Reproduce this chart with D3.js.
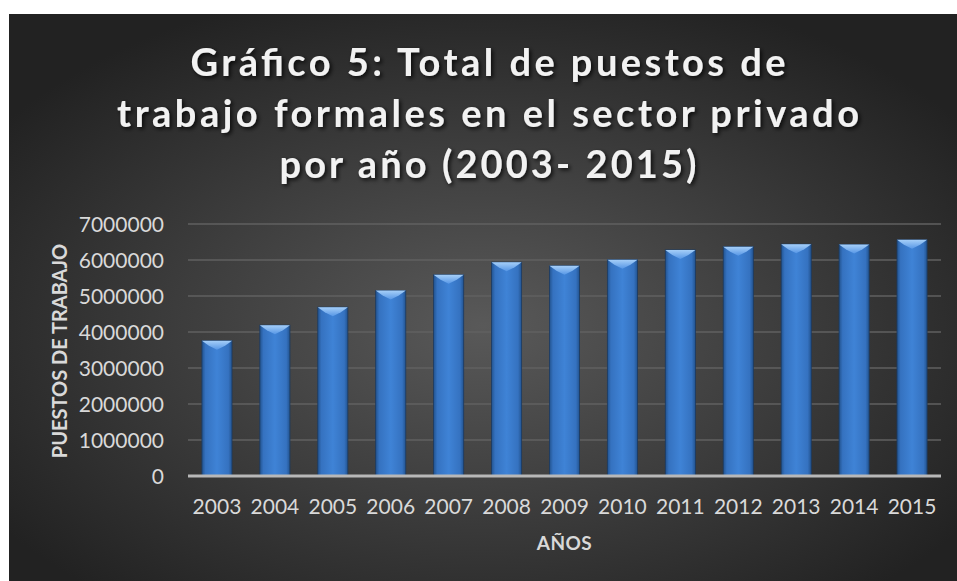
<!DOCTYPE html>
<html lang="es">
<head>
  <meta charset="UTF-8">
  <title>Gráfico 5: Total de puestos de trabajo formales</title>
  <style>
    html, body { margin: 0; padding: 0; background: #fff; }
    svg { display: block; }
  </style>
</head>
<body>
  <script src="https://d3js.org/d3.v7.min.js"></script>
  <script>
    // datos
    const years = ["2003", "2004", "2005", "2006", "2007", "2008", "2009",
                   "2010", "2011", "2012", "2013", "2014", "2015"];
    const puestos = [3760000, 4190000, 4690000, 5150000, 5590000, 5940000, 5840000,
                     6010000, 6280000, 6370000, 6440000, 6430000, 6560000];
    const yTicks = [0, 1000000, 2000000, 3000000, 4000000, 5000000, 6000000, 7000000];
    const titleLines = ["Gráfico 5: Total de puestos de",
                        "trabajo formales en el sector privado",
                        "por año (2003- 2015)"];

    const W = 957, H = 581;
    const margin = { top: 224, bottom: 105, left: 188, right: 16 };
    const font = "Lato, 'Open Sans', sans-serif";

    const svg = d3.select("body").append("svg")
      .attr("width", W).attr("height", H);

    const defs = svg.append("defs");

    // fondo oscuro con degradado radial
    const bg = defs.append("radialGradient").attr("id", "bg")
      .attr("cx", "50%").attr("cy", "55%").attr("r", "62%");
    bg.append("stop").attr("offset", "0%").attr("stop-color", "#595959");
    bg.append("stop").attr("offset", "100%").attr("stop-color", "#222222");

    const barGrad = defs.append("linearGradient").attr("id", "bar")
      .attr("x1", "0%").attr("x2", "100%");
    [["0%", "#22538f"], ["12%", "#3572c0"], ["50%", "#3f83d6"], ["88%", "#3572c0"], ["100%", "#22538f"]]
      .forEach(s => barGrad.append("stop").attr("offset", s[0]).attr("stop-color", s[1]));

    const topGrad = defs.append("linearGradient").attr("id", "bevel")
      .attr("x1", "0%").attr("y1", "0%").attr("x2", "0%").attr("y2", "100%");
    topGrad.append("stop").attr("offset", "0%").attr("stop-color", "#a6cff8");
    topGrad.append("stop").attr("offset", "100%").attr("stop-color", "#5797e6");

    const shadow = defs.append("filter").attr("id", "shadow")
      .attr("x", "-10%").attr("y", "-30%").attr("width", "120%").attr("height", "160%");
    shadow.append("feDropShadow").attr("dx", 2).attr("dy", 2)
      .attr("stdDeviation", 2).attr("flood-color", "#000").attr("flood-opacity", 0.8);

    svg.append("rect")
      .attr("x", 9).attr("y", 14).attr("width", W - 9).attr("height", H - 14)
      .attr("fill", "url(#bg)");

    // escalas
    const x = d3.scaleBand()
      .domain(years)
      .range([margin.left, W - margin.right])
      .paddingInner(0.48).paddingOuter(0.24);

    const y = d3.scaleLinear()
      .domain([0, 7000000])
      .range([H - margin.bottom, margin.top]);

    // líneas de la cuadrícula
    svg.append("g").selectAll("line").data(yTicks.slice(1)).join("line")
      .attr("x1", margin.left).attr("x2", W - margin.right)
      .attr("y1", d => y(d)).attr("y2", d => y(d))
      .attr("stroke", "#606060").attr("stroke-width", 1.5);

    // eje y
    const yAxis = svg.append("g")
      .attr("transform", `translate(${margin.left - 24},0)`)
      .call(d3.axisLeft(y).tickValues(yTicks).tickFormat(d3.format("d")).tickSize(0).tickPadding(0));
    yAxis.select(".domain").remove();
    yAxis.selectAll("text")
      .attr("font-family", font).attr("font-size", 21).attr("fill", "#d9d9d9")
      .attr("dy", "0.36em");

    // barras
    const bars = svg.append("g").selectAll("g").data(years).join("g");
    bars.append("rect")
      .attr("x", d => x(d))
      .attr("y", (d, i) => y(puestos[i]))
      .attr("width", x.bandwidth())
      .attr("height", (d, i) => y(0) - y(puestos[i]))
      .attr("fill", "url(#bar)")
      .attr("stroke", "#1c3a60").attr("stroke-width", 0.8);
    bars.append("path")
      .attr("d", (d, i) => {
        const x0 = x(d), x1 = x(d) + x.bandwidth(), t = y(puestos[i]);
        return `M${x0},${t}L${x1},${t}L${x1 - 7},${t + 5}L${(x0 + x1) / 2},${t + 9}L${x0 + 7},${t + 5}Z`;
      })
      .attr("fill", "url(#bevel)");

    // eje x
    svg.append("line")
      .attr("x1", margin.left).attr("x2", W - margin.right)
      .attr("y1", y(0)).attr("y2", y(0))
      .attr("stroke", "#b8b8b8").attr("stroke-width", 3);

    const xAxis = svg.append("g")
      .attr("transform", `translate(0,${y(0)})`)
      .call(d3.axisBottom(x).tickSize(0).tickPadding(0));
    xAxis.select(".domain").remove();
    xAxis.selectAll("text")
      .attr("font-family", font).attr("font-size", 21).attr("fill", "#d9d9d9")
      .attr("dy", "38");

    // títulos de ejes
    svg.append("text")
      .attr("x", (margin.left + W - margin.right) / 2).attr("y", 550)
      .attr("text-anchor", "middle")
      .attr("font-family", font).attr("font-weight", "bold").attr("font-size", 19)
      .attr("letter-spacing", 0.5)
      .attr("fill", "#d9d9d9")
      .text("AÑOS");

    svg.append("text")
      .attr("transform", "translate(67,351) rotate(-90)")
      .attr("text-anchor", "middle")
      .attr("font-family", font).attr("font-weight", "bold").attr("font-size", 20)
      .attr("fill", "#d9d9d9")
      .text("PUESTOS DE TRABAJO");

    // título
    const titleWidths = [595, 742, 417];
    svg.append("g").attr("filter", "url(#shadow)")
      .selectAll("text").data(titleLines).join("text")
      .attr("x", 488)
      .attr("y", (d, i) => 76 + i * 51)
      .attr("text-anchor", "middle")
      .attr("font-family", font).attr("font-weight", "bold").attr("font-size", 38)
      .attr("fill", "#f2f2f2")
      .attr("textLength", (d, i) => titleWidths[i])
      .attr("lengthAdjust", "spacing")
      .text(d => d);
  </script>
</body>
</html>
